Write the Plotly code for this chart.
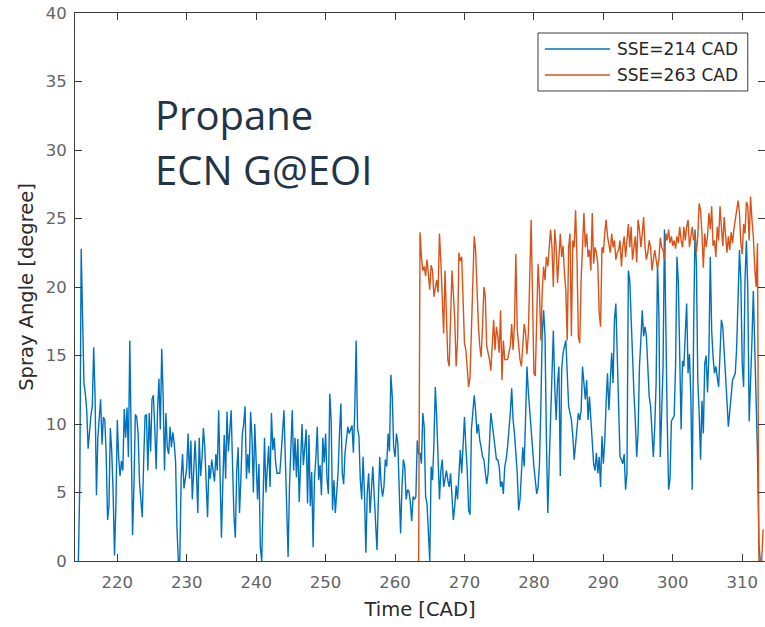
import numpy as np
import plotly.graph_objects as go

# Spray angle traces, sampled every 0.2 CAD
STEP = 0.2

sse214_start = 214.4
sse214_angle = [
    0.0, 5.7, 22.8,
    17.5, 13.0, 12.2, 11.0, 8.2,
    9.5, 10.6, 11.3, 15.6, 12.0,
    4.8, 9.0, 10.6, 11.8, 8.5,
    10.5, 10.3, 7.8, 3.0, 4.0,
    9.7, 8.0, 5.0, 0.4, 4.1,
    10.3, 7.5, 6.2, 7.3, 6.6,
    11.1, 9.0, 11.2, 7.6, 16.1,
    9.5, 1.9, 5.5, 10.7, 10.5,
    9.3, 5.7, 4.7, 3.2, 7.3,
    10.6, 10.7, 6.6, 10.8, 8.0,
    11.8, 12.1, 9.7, 6.7, 11.0,
    13.3, 9.6, 15.5, 12.0, 6.6,
    10.8, 8.3, 7.8, 9.8, 8.3,
    9.4, 8.6, 7.2, 2.3, 0.0,
    0.0, 6.1, 7.8, 5.3, 6.0,
    6.8, 9.3, 6.0, 8.8, 4.5,
    6.5, 8.8, 6.5, 3.5, 9.0,
    6.2, 7.5, 9.7, 8.3, 5.3,
    3.2, 7.0, 6.0, 7.4, 6.5,
    5.8, 7.8, 6.6, 11.0, 5.2,
    1.7, 5.7, 9.2, 6.0, 10.9,
    8.0, 9.8, 11.0, 7.0, 3.3,
    1.7, 6.6, 8.3, 3.5, 6.0,
    9.2, 10.0, 11.3, 6.0, 7.8,
    6.4, 10.9, 9.0, 5.0, 10.0,
    6.4, 4.5, 7.1, 1.0, 0.0,
    4.5, 9.0, 5.0, 7.2, 8.4,
    5.4, 10.8, 8.1, 9.0, 7.2,
    6.4, 6.4, 6.4, 7.8, 9.1,
    11.0, 7.5, 3.0, 0.3, 5.5,
    8.8, 11.0, 6.6, 9.0, 6.1,
    8.9, 4.3, 8.0, 10.0, 7.0,
    8.6, 9.6, 4.2, 9.2, 4.0,
    6.5, 1.0, 6.1, 7.5, 9.8,
    5.9, 7.0, 4.8, 9.0, 7.2,
    9.3, 6.0, 4.9, 12.2, 10.3,
    3.7, 5.9, 3.5, 5.0, 6.5,
    9.3, 11.5, 6.4, 5.6, 7.9,
    9.1, 9.8, 9.3, 9.6, 9.9,
    7.9, 11.0, 16.1, 9.7, 9.1,
    5.9, 4.5, 7.6, 4.9, 0.6,
    5.0, 6.4, 3.5, 5.6, 6.9,
    4.8, 2.5, 0.8, 4.5, 7.6,
    5.6, 4.7, 5.4, 7.4, 6.9,
    9.3, 8.0, 13.6, 12.0, 8.3,
    7.6, 9.3, 8.6, 4.5, 2.0,
    5.4, 7.4, 6.9, 4.5, 5.2,
    5.1, 4.3, 2.9, 4.7, 4.5,
    4.7, 8.8, 7.8, 7.9, 7.1,
    10.8, 9.8, 4.7, 4.2, 2.0,
    0.0, 6.9, 5.9, 8.6, 12.7,
    10.5, 7.4, 4.5, 6.6, 7.4,
    5.4, 5.9, 6.6, 5.9, 5.4,
    6.4, 4.5, 3.0, 4.0, 5.5,
    4.5, 6.6, 8.1, 6.4, 8.8,
    10.5, 8.3, 6.6, 3.7, 3.4,
    9.6, 11.3, 12.1, 11.0, 9.3,
    10.0, 8.8, 8.3, 7.6, 7.4,
    6.6, 5.6, 6.4, 9.3, 10.8,
    10.0, 9.3, 8.3, 7.4, 7.4,
    6.9, 5.4, 5.8, 4.9, 6.9,
    7.4, 8.3, 9.5, 10.8, 12.6,
    10.3, 9.3, 7.6, 6.4, 3.7,
    4.5, 6.4, 8.3, 6.9, 10.3,
    14.2, 12.3, 10.8, 9.3, 7.6,
    6.9, 5.9, 4.9, 5.4, 7.1,
    11.3, 16.6, 18.3, 16.4, 8.8,
    3.5, 7.1, 10.8, 14.2, 16.8,
    12.8, 10.3, 13.0, 14.2, 6.2,
    14.0, 15.2, 15.6, 16.1, 13.7,
    11.3, 10.8, 10.3, 9.1, 7.4,
    8.5, 10.0, 10.8, 10.3, 11.0,
    14.2, 12.6, 11.8, 13.2, 10.3,
    12.0, 10.3, 8.8, 7.1, 6.6,
    7.9, 6.4, 7.6, 5.4, 9.1,
    7.1, 8.8, 11.6, 13.7, 11.0,
    12.8, 15.2, 13.0, 17.6, 18.8,
    14.6, 11.0, 7.6, 7.4, 7.1,
    7.8, 5.2, 6.4, 21.2, 20.5,
    17.5, 13.7, 12.3, 10.3, 7.6,
    9.3, 14.2, 16.1, 18.3, 16.4,
    17.1, 16.4, 14.2, 12.0, 11.3,
    9.3, 7.6, 9.8, 13.0, 21.7,
    18.0, 7.6, 11.5, 14.2, 24.2,
    15.6, 10.2, 5.2, 6.0, 10.2,
    10.4, 10.6, 14.2, 22.2, 20.4,
    15.1, 9.6, 14.6, 14.2, 16.6,
    18.8, 13.7, 15.1, 12.0, 5.2,
    16.8, 24.2, 21.7, 13.2, 10.8,
    7.4, 11.7, 9.3, 14.4, 15.0,
    12.3, 15.1, 22.2, 16.8, 14.9,
    13.7, 14.2, 13.2, 12.7, 15.1,
    17.6, 17.1, 15.0, 12.7, 11.7,
    9.8, 11.3, 12.0, 13.2, 13.4,
    13.7, 15.6, 19.8, 22.7, 20.5,
    14.4, 12.7, 20.5, 23.4, 19.8,
    10.2, 14.2, 16.1, 19.7, 16.1,
    11.3, 7.8, 1.3, 0.0,
]

sse263_start = 263.4
sse263_angle = [
    0.0, 24.0, 22.2,
    21.2, 21.5, 20.8, 22.0, 20.6,
    19.8, 21.6, 21.2, 19.3, 20.0,
    20.5, 19.6, 23.9, 21.8, 18.8,
    16.6, 21.2, 18.1, 14.7, 14.2,
    18.3, 21.2, 19.5, 17.6, 14.2,
    16.1, 22.5, 21.9, 22.2, 19.3,
    15.9, 15.4, 13.9, 12.7, 13.4,
    17.3, 21.5, 23.7, 22.7, 19.8,
    17.3, 15.7, 14.9, 17.1, 20.0,
    19.3, 15.7, 15.2, 14.7, 13.9,
    15.9, 17.6, 15.4, 17.1, 16.4,
    15.2, 18.3, 13.2, 16.1, 14.7,
    14.7, 14.7, 15.2, 15.7, 17.3,
    15.4, 17.3, 22.4, 16.9, 15.7,
    14.7, 14.2, 15.7, 17.3, 16.6,
    15.1, 16.6, 20.5, 24.9, 19.3,
    13.7, 13.5, 17.1, 21.7, 19.7,
    16.1, 19.7, 21.5, 20.5, 22.2,
    21.5, 23.0, 24.2, 22.9, 20.0,
    24.2, 22.9, 20.3, 22.2, 23.9,
    22.2, 23.0, 21.0, 19.7, 16.1,
    22.9, 23.9, 16.4, 23.4, 22.9,
    25.6, 22.2, 16.4, 15.9, 20.5,
    22.5, 25.4, 22.9, 23.9, 22.2,
    22.7, 21.2, 25.4, 21.7, 22.9,
    22.5, 21.7, 18.1, 17.1, 22.9,
    22.5, 23.9, 24.9, 23.7, 22.9,
    22.5, 23.9, 22.9, 23.4, 22.0,
    22.5, 22.7, 23.4, 21.5, 22.9,
    23.7, 22.2, 23.4, 24.6, 22.9,
    24.4, 22.0, 22.9, 23.7, 21.8,
    24.9, 24.2, 22.9, 23.9, 25.1,
    22.9, 22.0, 22.5, 23.4, 22.9,
    21.2, 22.0, 22.7, 22.0, 21.4,
    22.0, 23.6, 22.9, 22.7, 22.0,
    23.9, 23.4, 24.2, 23.2, 23.7,
    23.0, 23.4, 22.8, 23.7, 23.2,
    24.4, 23.4, 22.9, 24.4, 23.4,
    24.4, 24.9, 22.9, 23.9, 24.4,
    23.4, 23.9, 22.5, 23.7, 26.1,
    25.6, 23.9, 21.4, 23.9, 22.9,
    23.7, 25.4, 24.2, 25.9, 23.0,
    23.4, 22.2, 24.4, 23.4, 25.9,
    24.4, 23.0, 25.1, 23.9, 22.5,
    23.7, 22.7, 24.0, 23.2, 24.2,
    25.1, 25.6, 26.3, 25.4, 23.2,
    22.4, 24.6, 23.9, 26.2, 25.9,
    23.4, 26.6, 24.9, 23.7, 21.4,
    20.0, 23.2, 0.0, 0.0, 0.0,
    2.3,
]

series_names = ["SSE=214 CAD", "SSE=263 CAD"]
series_colors = ["#0072BD", "#D95319"]

x_ticks = [220, 230, 240, 250, 260, 270, 280, 290, 300, 310]
y_ticks = [0, 5, 10, 15, 20, 25, 30, 35, 40]
x_range = [213.91, 313.28]
y_range = [0, 40]

annotation_lines = ["Propane", "ECN G@EOI"]


def time_axis(start, values):
    return np.round(start + STEP * np.arange(len(values)), 2)


fig = go.Figure()
for start, vals, name, color in [
    (sse214_start, sse214_angle, series_names[0], series_colors[0]),
    (sse263_start, sse263_angle, series_names[1], series_colors[1]),
]:
    fig.add_trace(go.Scatter(
        x=time_axis(start, vals), y=vals, mode="lines", name=name,
        line=dict(color=color, width=1.4), showlegend=False,
    ))

# invisible helper trace so the right-hand axis gets its tick marks
fig.add_trace(go.Scatter(x=[x_range[0]], y=[0], yaxis="y2", mode="lines",
                         showlegend=False, hoverinfo="skip",
                         line=dict(width=0)))

axis_color = "#3c3c3c"
tick_font = dict(family="DejaVu Sans", size=16.5, color="#636363")
title_font = dict(family="DejaVu Sans", size=19.5, color="#2a2a2a")

fig.update_layout(
    width=765, height=627,
    margin=dict(l=75, r=0, t=13, b=66),
    paper_bgcolor="white", plot_bgcolor="white",
    xaxis=dict(
        range=x_range, tickvals=x_ticks, ticks="inside", ticklen=7,
        tickcolor=axis_color, showline=True, linecolor=axis_color,
        linewidth=1, mirror="ticks", showgrid=False, zeroline=False,
        tickfont=tick_font, ticklabelstandoff=6,
        title=dict(text="Time [CAD]", standoff=11, font=title_font),
    ),
    yaxis=dict(
        range=y_range, tickvals=y_ticks, ticks="inside", ticklen=7,
        tickcolor=axis_color, showline=True, linecolor=axis_color,
        linewidth=1, mirror=False, showgrid=False, zeroline=False,
        tickfont=tick_font, ticklabelstandoff=4,
        title=dict(text="Spray Angle [degree]", standoff=6,
                   font=title_font),
    ),
    yaxis2=dict(
        range=y_range, tickvals=y_ticks, ticks="inside", ticklen=7,
        tickcolor=axis_color, overlaying="y", side="right",
        showticklabels=False, showline=False, showgrid=False,
        zeroline=False,
    ),
)

# legend box drawn in paper coordinates
box_x0, box_x1, box_y0, box_y1 = 0.671, 0.975, 0.8577, 0.9635
fig.add_shape(type="rect", xref="paper", yref="paper",
              x0=box_x0, x1=box_x1, y0=box_y0, y1=box_y1,
              line=dict(color="#3c3c3c", width=1), fillcolor="white",
              layer="above")
for yy, name, color in zip([0.9343, 0.8869], series_names, series_colors):
    fig.add_shape(type="line", xref="paper", yref="paper",
                  x0=0.681, x1=0.7754, y0=yy, y1=yy,
                  line=dict(color=color, width=1.3), layer="above")
    fig.add_annotation(xref="paper", yref="paper", x=0.7826, y=yy,
                       text=name, showarrow=False, xanchor="left",
                       yanchor="middle",
                       font=dict(family="DejaVu Sans", size=17,
                                 color="#262626"))

for yy, line in zip([0.815, 0.715], annotation_lines):
    fig.add_annotation(xref="paper", yref="paper", x=0.1130, y=yy,
                       text=line, showarrow=False, xanchor="left",
                       yanchor="middle",
                       font=dict(family="Open Sans", size=40,
                                 color="#243447"))

fig.write_html("out.html")
